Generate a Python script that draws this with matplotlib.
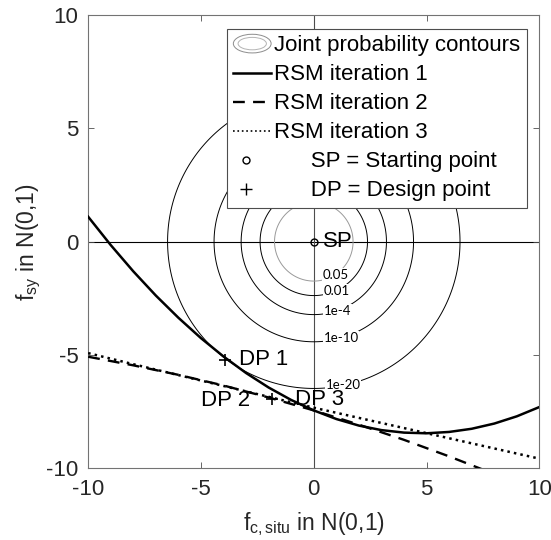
import numpy as np
import matplotlib
matplotlib.use('Agg')
import matplotlib.pyplot as plt
from matplotlib.legend_handler import HandlerBase
from matplotlib.patches import Ellipse
from matplotlib.lines import Line2D

plt.rcParams['font.family'] = ['Liberation Sans', 'DejaVu Sans']
plt.rcParams['mathtext.fontset'] = 'custom'
plt.rcParams['mathtext.rm'] = 'Liberation Sans'
plt.rcParams['mathtext.it'] = 'Liberation Sans'
plt.rcParams['axes.unicode_minus'] = False

# joint probability contours (radius in standard normal space)
contour_labels = ['0.05', '0.01', '1e-4', '1e-10', '1e-20']
contour_radii = [1.74, 2.38, 3.22, 4.42, 6.48]
contour_colors = ['0.6', 'k', 'k', 'k', 'k']
label_x = [0.96, 1.0, 1.06, 1.21, 1.3]

# RSM limit state curves
x_it1 = [-10, -9, -8, -7, -6, -5, -4, -3, -2, -1, 0, 1, 2, 3, 4, 5, 6, 7, 8, 9, 10]
y_it1 = [1.10, -0.15, -1.31, -2.38, -3.36, -4.26, -5.07, -5.80, -6.44, -6.99, -7.45,
         -7.83, -8.12, -8.32, -8.43, -8.46, -8.40, -8.26, -8.03, -7.71, -7.30]
x_it2 = [-10, -8, -6, -4, -2, 0, 2, 4, 6, 8]
y_it2 = [-5.08, -5.46, -5.88, -6.35, -6.88, -7.45, -8.08, -8.75, -9.48, -10.26]
x_it3 = [-10, -8, -6, -4, -2, 0, 2, 4, 6, 8, 10]
y_it3 = [-4.92, -5.41, -5.89, -6.37, -6.85, -7.33, -7.78, -8.23, -8.68, -9.13, -9.58]

sp = (0, 0)
dp_x = [-3.93, -1.86]
dp_y = [-5.24, -6.93]


class ContourHandler(HandlerBase):
    def create_artists(self, legend, orig_handle, xdescent, ydescent, width, height, fontsize, trans):
        cx = width / 2 - xdescent
        cy = height / 2 - ydescent
        outer = Ellipse((cx, cy), width, height * 1.2, fill=False, ec='0.55', lw=0.7, transform=trans)
        inner = Ellipse((cx, cy), width * 0.75, height * 0.8, fill=False, ec='0.7', lw=0.7, transform=trans)
        return [outer, inner]


class MarkerHandler(HandlerBase):
    def create_artists(self, legend, orig_handle, xdescent, ydescent, width, height, fontsize, trans):
        m = Line2D([width * 0.34 - xdescent], [height / 2 - ydescent], ls='none',
                   marker=orig_handle.get_marker(), ms=orig_handle.get_markersize(),
                   mfc='none', mec='k', mew=orig_handle.get_markeredgewidth(), transform=trans)
        return [m]


fig = plt.figure(figsize=(5.51, 5.40), dpi=100)
ax = fig.add_axes([0.160, 0.133, 0.819, 0.839])

gx = np.linspace(-10, 10, 801)
X, Y = np.meshgrid(gx, gx)
R = np.hypot(X, Y)
ax.contour(X, Y, R, levels=contour_radii, colors=contour_colors, linewidths=0.7, zorder=2)
for lab, r, lx in zip(contour_labels, contour_radii, label_x):
    ax.text(lx, -np.sqrt(r ** 2 - lx ** 2), lab, family='Lato', fontsize=9.5, ha='center', va='center',
            bbox=dict(fc='white', ec='none', pad=0.6), zorder=3)

ax.axhline(0, color='k', lw=0.8, zorder=1)
ax.axvline(0, color='0.3', lw=0.8, zorder=1)

ax.plot(x_it1, y_it1, color='k', lw=1.8, zorder=4)
ax.plot(x_it2, y_it2, color='k', lw=1.7, dashes=(5, 3.5), zorder=4)
ax.plot(x_it3, y_it3, color='k', lw=1.8, ls=':', zorder=4)

ax.plot(*sp, ls='none', marker='o', ms=5, mfc='none', mec='k', mew=1, zorder=5)
ax.plot(dp_x, dp_y, ls='none', marker='+', ms=9, mec='k', mew=1.2, zorder=5)

ax.text(0.4, 0, 'SP', fontsize=16, ha='left', va='center', zorder=6)
ax.text(-3.33, -5.2, 'DP 1', fontsize=16, ha='left', va='center', zorder=6)
ax.text(-2.82, -7.02, 'DP 2', fontsize=16, ha='right', va='center', zorder=6)
ax.text(-0.84, -6.98, 'DP 3', fontsize=16, ha='left', va='center', zorder=6)

ax.set_xlim(-10, 10)
ax.set_ylim(-10, 10)
ax.set_xticks([-10, -5, 0, 5, 10])
ax.set_yticks([-10, -5, 0, 5, 10])
ax.tick_params(direction='in', top=True, right=True, length=4, width=0.6,
               color='0.3', labelcolor='0.15', labelsize=16)
ax.tick_params(axis='x', pad=8)
ax.tick_params(axis='y', pad=7)
for s in ax.spines.values():
    s.set_color('0.45')
    s.set_linewidth(0.8)

ax.set_xlabel(r'$\mathregular{f_{c,situ}}$ in N(0,1)', fontsize=16.5, color='0.15', labelpad=7)
ax.set_ylabel(r'$\mathregular{f_{sy}}$ in N(0,1)', fontsize=16.5, color='0.15', labelpad=2)

h_cont = Line2D([], [])
h1 = Line2D([], [], color='k', lw=1.8)
h2 = Line2D([], [], color='k', lw=1.7, dashes=(5, 3.5))
h3 = Line2D([], [], color='k', lw=1.2, ls=':')
h_sp = Line2D([], [], ls='none', marker='o', ms=5, mew=1)
h_dp = Line2D([], [], ls='none', marker='+', ms=9, mew=1)
leg = ax.legend([h_cont, h1, h2, h3, h_sp, h_dp],
                ['Joint probability contours', 'RSM iteration 1', 'RSM iteration 2', 'RSM iteration 3',
                 '      SP = Starting point', '      DP = Design point'],
                handler_map={h_cont: ContourHandler(), h_sp: MarkerHandler(), h_dp: MarkerHandler()},
                loc='upper right', bbox_to_anchor=(0.973, 0.970), borderaxespad=0,
                fontsize=16, handlelength=1.7, handletextpad=0.15, labelspacing=0.36,
                borderpad=0.3, fancybox=False, framealpha=1, edgecolor='0.3')
leg.get_frame().set_linewidth(0.8)
leg.set_zorder(7)

fig.savefig('out.png', dpi=100)
